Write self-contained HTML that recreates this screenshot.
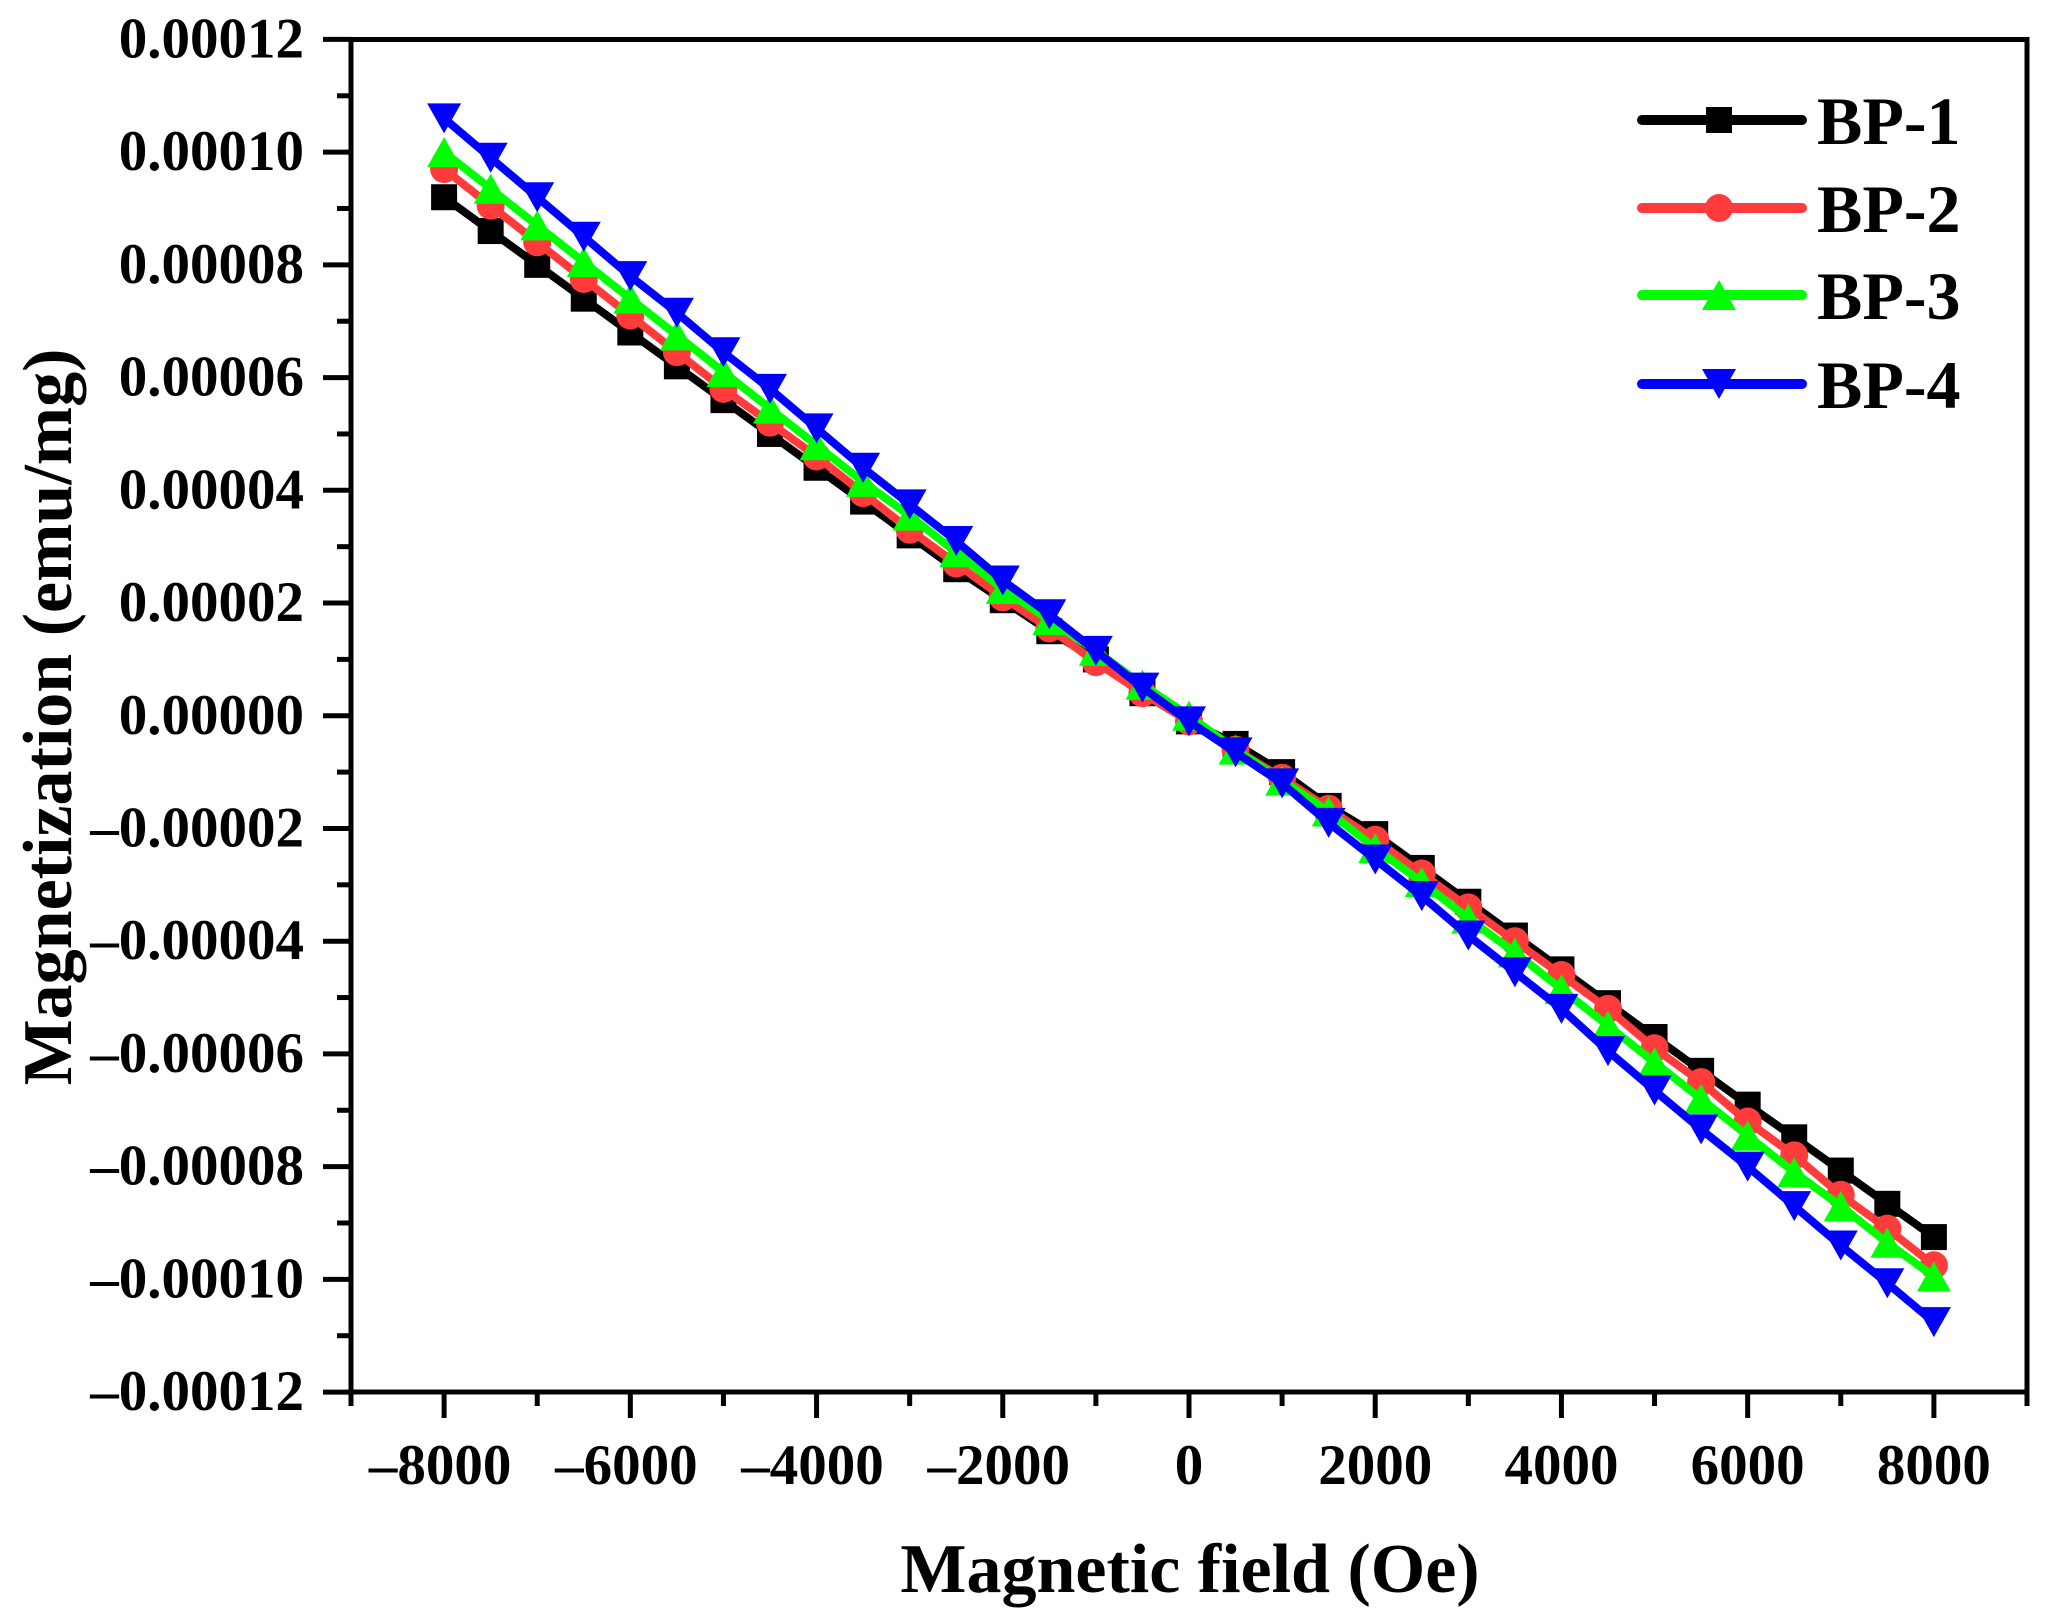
<!DOCTYPE html>
<html lang="en">
<head>
<meta charset="utf-8">
<title>Magnetization vs magnetic field</title>
<style>
html,body{margin:0;padding:0;background:#fff;overflow:hidden;}
svg{display:block;}
text{font-family:"Liberation Serif",serif;font-weight:bold;fill:#000;}
</style>
</head>
<body>
<svg id="chart" width="2058" height="1617" viewBox="0 0 2058 1617" xmlns="http://www.w3.org/2000/svg">
  <rect x="0" y="0" width="2058" height="1617" fill="#fff"/>
  <g id="axes"></g>
  <g id="series"></g>
  <rect x="351" y="39.5" width="1676" height="1352.5" fill="none" stroke="#000" stroke-width="5"/>
  <text x="1190" y="1592" font-size="70" text-anchor="middle">Magnetic field (Oe)</text>
  <text transform="translate(71,717) rotate(-90)" font-size="70" text-anchor="middle">Magnetization (emu/mg)</text>
  <g id="legend"></g>
</svg>
<script>
var fieldValues = [-8000,-7500,-7000,-6500,-6000,-5500,-5000,-4500,-4000,-3500,-3000,-2500,-2000,-1500,-1000,-500,0,500,1000,1500,2000,2500,3000,3500,4000,4500,5000,5500,6000,6500,7000,7500,8000];
var bp1Values = [92,86,80,74,68,62,56,50,44,38,32,26,20.5,15,10,4,-1,-5,-10,-16,-21,-27,-33,-39,-45,-51,-57,-63,-69,-74.8,-80.7,-86.6,-92.5];
var bp2Values = [97,90.5,84,77.5,71,64.5,58,52,46,39.5,33,27,21,15.5,9.5,4,-1,-6,-11,-16.5,-22,-28,-34,-40,-46,-52,-59,-65,-72,-78,-85,-91,-97.5];
var bp3Values = [100,93.5,87,80.5,74,67.5,61,54.5,48,41.5,35.5,29,22.5,17,11.5,5.5,0,-6,-11.5,-17,-23.5,-29.5,-36,-42,-48.5,-55,-61.5,-68,-74.5,-81,-87,-93.5,-99.5];
var bp4Values = [106,99,92,85,78,71.5,64.5,58,51,44,37.5,31,24,18,11.5,5,-1,-6.5,-12,-19,-25.5,-32,-39,-45.5,-52,-59.5,-66.5,-73.4,-80,-87,-94,-100.7,-107.6];
var seriesNames = ["BP-1","BP-2","BP-3","BP-4"];
var xMajorTicks = [-8000,-6000,-4000,-2000,0,2000,4000,6000,8000];
var xMinorTicks = [-9000,-7000,-5000,-3000,-1000,1000,3000,5000,7000,9000];
var xTickLabels = ["\u20138000","\u20136000","\u20134000","\u20132000","0","2000","4000","6000","8000"];
var yMajorTicks = [120,100,80,60,40,20,0,-20,-40,-60,-80,-100,-120];
var yMinorTicks = [110,90,70,50,30,10,-10,-30,-50,-70,-90,-110];
var yTickLabels = ["0.00012","0.00010","0.00008","0.00006","0.00004","0.00002","0.00000","\u20130.00002","\u20130.00004","\u20130.00006","\u20130.00008","\u20130.00010","\u20130.00012"];

var NS = "http://www.w3.org/2000/svg";
var axesGroup = document.getElementById("axes");
var seriesGroup = document.getElementById("series");
var legendGroup = document.getElementById("legend");

function xScale(v){ return 351 + (v + 9000) * 1676 / 18000; }
function yScale(v){ return 715.75 - v * 5.636; }

function make(tag, attrs, parent){
  var el = document.createElementNS(NS, tag);
  for (var k in attrs) { el.setAttribute(k, attrs[k]); }
  parent.appendChild(el);
  return el;
}

function drawMarker(kind, cx, cy, color, parent){
  var el;
  if (kind === 0) {
    el = make("rect", {x: cx - 13, y: cy - 13, width: 26, height: 26, fill: color}, parent);
  } else if (kind === 1) {
    el = make("circle", {cx: cx, cy: cy, r: 14, fill: color}, parent);
  } else if (kind === 2) {
    el = make("polygon", {points: (cx) + "," + (cy - 15) + " " + (cx + 17) + "," + (cy + 15) + " " + (cx - 17) + "," + (cy + 15), fill: color}, parent);
  } else {
    el = make("polygon", {points: (cx) + "," + (cy + 15) + " " + (cx + 17) + "," + (cy - 15) + " " + (cx - 17) + "," + (cy - 15), fill: color}, parent);
  }
  
  
}

xMajorTicks.forEach(function(v, i){
  var t = make("line", {x1: xScale(v), x2: xScale(v), y1: 1392, y2: 1418, stroke: "#000", "stroke-width": 5}, axesGroup);
  
  
  var lab = make("text", {x: xScale(v) - (xTickLabels[i].length > 4 ? 4 : 0), y: 1484, "font-size": 57, "text-anchor": "middle"}, axesGroup);
  lab.textContent = xTickLabels[i];
  
  
});
xMinorTicks.forEach(function(v){
  var t = make("line", {x1: xScale(v), x2: xScale(v), y1: 1392, y2: 1406, stroke: "#000", "stroke-width": 5}, axesGroup);
  
  
});
yMajorTicks.forEach(function(v, i){
  var t = make("line", {x1: 323, x2: 351, y1: yScale(v), y2: yScale(v), stroke: "#000", "stroke-width": 5}, axesGroup);
  
  
  var lab = make("text", {x: 304, y: yScale(v) + 18, "font-size": 57, "text-anchor": "end"}, axesGroup);
  lab.textContent = yTickLabels[i];
  
  
});
yMinorTicks.forEach(function(v){
  var t = make("line", {x1: 337, x2: 351, y1: yScale(v), y2: yScale(v), stroke: "#000", "stroke-width": 5}, axesGroup);
  
  
});

var allSeries = [bp1Values, bp2Values, bp3Values, bp4Values];
var seriesColors = ["#000000", "#ff3b3b", "#00ff00", "#0000ff"];

allSeries.forEach(function(values, s){
  var g = make("g", {}, seriesGroup);
  
  
  var pts = values.map(function(v, i){ return xScale(fieldValues[i]) + "," + yScale(v); }).join(" ");
  var line = make("polyline", {points: pts, fill: "none", stroke: seriesColors[s], "stroke-width": 8, "stroke-linejoin": "round"}, g);
  
  
  values.forEach(function(v, i){
    drawMarker(s, xScale(fieldValues[i]), yScale(v), seriesColors[s], g);
  });
});

var legendRows = [120, 208, 295, 384];
seriesNames.forEach(function(name, s){
  var g = make("g", {}, legendGroup);
  
  
  var ly = legendRows[s];
  var l = make("line", {x1: 1642, x2: 1802, y1: ly, y2: ly, stroke: seriesColors[s], "stroke-width": 10, "stroke-linecap": "round"}, g);
  
  
  drawMarker(s, 1719, ly, seriesColors[s], g);
  var txt = make("text", {x: 1817, y: ly + 24, "font-size": 68}, g);
  txt.textContent = name;
  
  
});
</script>
</body>
</html>
